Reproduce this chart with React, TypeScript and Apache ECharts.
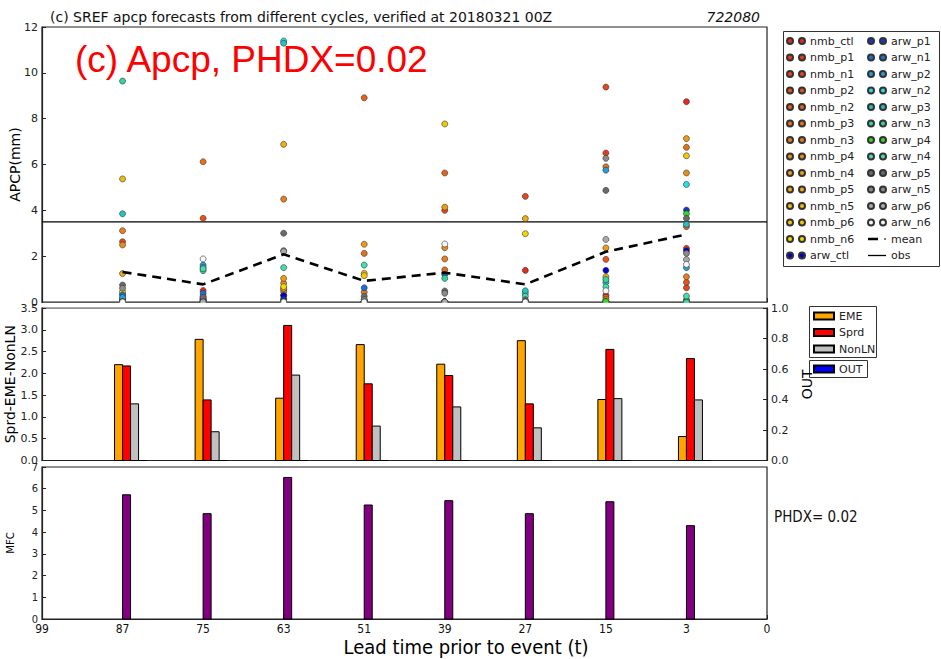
import React, { useEffect, useRef } from "react";
import * as echarts from "echarts";

// x axis tick labels (evenly spaced positions) and forecast lead times
const xLabels = ["99", "87", "75", "63", "51", "39", "27", "15", "3", "0"];
const leadTimes = ["87", "75", "63", "51", "39", "27", "15", "3"];

// member forecasts (mm) at lead times 87,75,63,51,39,27,15,3
const nmb_ctl = [0, 0.5, 0, 0, 0, 1.38, 0.3, 8.74];
const nmb_p1 = [0.1, 0.25, 0.15, 0, 0, 0, 6.5, 2.34];
const nmb_n1 = [2.63, 0, 0.3, 0.1, 4.0, 4.61, 9.38, 0.62];
const nmb_p2 = [0.15, 3.65, 0.55, 0, 0, 0, 1.86, 0.86];
const nmb_n2 = [0, 0.1, 0.45, 8.91, 5.63, 0, 0.2, 3.29];
const nmb_p3 = [0, 6.12, 0, 2.12, 1.4, 0, 5.9, 6.75];
const nmb_n3 = [3.11, 0, 4.49, 0.43, 1.88, 0, 0, 1.1];
const nmb_p4 = [2.49, 0.05, 0.82, 0, 2.37, 0, 0.1, 5.63];
const nmb_n4 = [0.35, 0, 1.03, 2.52, 4.14, 0, 2.36, 7.13];
const nmb_p5 = [1.24, 0, 6.88, 0, 0, 3.64, 1.1, 0.1];
const nmb_n5 = [5.37, 0.15, 0.6, 1.25, 0, 0, 0, 0.05];
const nmb_p6 = [0, 0, 0, 1.15, 7.77, 0, 0, 6.38];
const nmb_n6 = [0.45, 0, 0.67, 0, 0, 2.98, 0, 0];
const arw_ctl = [0, 0.1, 0.28, 0, 0, 0, 1.38, 2.24];
const arw_p1 = [0.05, 0, 0.1, 0, 0, 0, 0, 4.01];
const arw_n1 = [0.3, 0.38, 0, 0.62, 1.2, 0, 0, 0];
const arw_p2 = [0.2, 1.61, 0, 0, 0, 0, 5.75, 1.5];
const arw_n2 = [0, 0, 11.39, 0, 0, 0.38, 0, 5.13];
const arw_p3 = [3.85, 1.5, 11.29, 0, 0, 0.49, 0.85, 3.39];
const arw_n3 = [9.64, 1.37, 0, 0, 1.03, 0, 0.98, 0];
const arw_p4 = [0, 0, 0, 0, 0, 0, 0.02, 3.85];
const arw_n4 = [0, 1.45, 1.5, 1.61, 0, 0.25, 0.66, 0.26];
const arw_p5 = [0.74, 0.2, 3.0, 0.25, 0.48, 0.1, 4.87, 3.65];
const arw_n5 = [0.6, 0, 2.24, 0.1, 0.38, 0, 6.27, 2.12];
const arw_p6 = [0, 0, 2.2, 0, 0, 0, 2.73, 1.85];
const arw_n6 = [0, 1.88, 0, 0, 2.53, 0, 0.49, 1.64];

const memberNames = [
  "nmb_ctl", "nmb_p1", "nmb_n1", "nmb_p2", "nmb_n2", "nmb_p3", "nmb_n3",
  "nmb_p4", "nmb_n4", "nmb_p5", "nmb_n5", "nmb_p6", "nmb_n6",
  "arw_ctl", "arw_p1", "arw_n1", "arw_p2", "arw_n2", "arw_p3", "arw_n3",
  "arw_p4", "arw_n4", "arw_p5", "arw_n5", "arw_p6", "arw_n6",
];
const memberValues = [
  nmb_ctl, nmb_p1, nmb_n1, nmb_p2, nmb_n2, nmb_p3, nmb_n3, nmb_p4, nmb_n4,
  nmb_p5, nmb_n5, nmb_p6, nmb_n6,
  arw_ctl, arw_p1, arw_n1, arw_p2, arw_n2, arw_p3, arw_n3, arw_p4, arw_n4,
  arw_p5, arw_n5, arw_p6, arw_n6,
];
const memberColors = [
  "#e62a1a", "#e6381a", "#e6461a", "#e6541a", "#e6621a", "#e6701a", "#e87e1c",
  "#ec8c18", "#f09c12", "#f0ac10", "#f0bc0c", "#f0c808", "#f0d800",
  "#0000cc", "#1038d0", "#1870dc", "#20a0dc", "#20e0e8", "#20c4c4", "#30d69c",
  "#30dc20", "#40e0a8", "#6a6a6a", "#8a8a8a", "#aaaaaa", "#f6f6f6",
];

const meanValues = [1.31, 0.77, 2.08, 0.92, 1.28, 0.77, 2.19, 2.95];
const obsValue = [3.5];

const emeValues = [2.2, 2.78, 1.43, 2.66, 2.21, 2.75, 1.4, 0.55];
const sprdValues = [2.17, 1.39, 3.1, 1.76, 1.95, 1.3, 2.55, 2.34];
const nonlnValues = [1.3, 0.66, 1.96, 0.79, 1.23, 0.75, 1.42, 1.39];
const outValues = [0, 0, 0, 0, 0, 0, 0, 0];
const mfcValues = [5.72, 4.85, 6.52, 5.25, 5.45, 4.85, 5.4, 4.3];

const titleText = "(c) SREF apcp forecasts from different cycles, verified at 20180321 00Z";
const stationText = "722080";
const bigLabel = "(c) Apcp, PHDX=0.02";
const phdxText = "PHDX= 0.02";
const xTitle = "Lead time prior to event (t)";

const DV = '"DejaVu Sans", sans-serif';
const DVC = '"DejaVu Sans Condensed", "DejaVu Sans", sans-serif';
const twoDots =
  "path://M0,3a3,3 0 1,0 6,0a3,3 0 1,0 -6,0M12,3a3,3 0 1,0 6,0a3,3 0 1,0 -6,0";
const meanIcon = "path://M0,0h10v2.6h-10zM16,0.7h2v1.2h-2z";
const obsIcon = "path://M0,0h18v1.3h-18z";

const GL = 42;
const GW = 725;
const BAR_W = 8;

function xAxisFor(idx: number, showLabel: boolean) {
  return {
    type: "category",
    gridIndex: idx,
    data: xLabels,
    boundaryGap: false,
    axisLine: { show: true, lineStyle: { color: "#222", width: 1.2 } },
    axisTick: { show: true, inside: true, length: 4, lineStyle: { color: "#222" } },
    axisLabel: {
      show: showLabel,
      margin: 4,
      fontFamily: DVC,
      fontSize: 12,
      color: "#111",
    },
    splitLine: { show: false },
  };
}

function yAxisFor(
  idx: number,
  min: number,
  max: number,
  interval: number,
  name: string,
  nameSize: number,
  nameGap: number,
  decimals: number,
  position: string
) {
  return {
    type: "value",
    gridIndex: idx,
    min,
    max,
    interval,
    position,
    axisLine: { show: true, lineStyle: { color: "#222", width: 1.2 } },
    axisTick: { show: true, inside: true, length: 4, lineStyle: { color: "#222" } },
    axisLabel: {
      margin: 4,
      fontFamily: idx === 2 ? DVC : DV,
      fontSize: 11,
      color: "#222",
      formatter: (v: number) => v.toFixed(decimals),
    },
    splitLine: { show: false },
    name,
    nameLocation: "middle",
    nameGap,
    nameRotate: 90,
    nameMoveOverlap: false,
    nameTextStyle: { fontFamily: DV, fontSize: nameSize, color: "#000" },
  };
}

function barSeries(
  name: string,
  xAxisIndex: number,
  yAxisIndex: number,
  values: number[],
  color: string,
  offset: number
) {
  return {
    type: "custom",
    name,
    xAxisIndex,
    yAxisIndex,
    itemStyle: { color, borderColor: "#000", borderWidth: 1 },
    data: leadTimes.map((l, i) => [l, values[i]]),
    encode: { x: 0, y: 1 },
    renderItem: (_params: any, api: any) => {
      const xv = api.value(0);
      const yv = api.value(1);
      const top = api.coord([xv, yv]);
      const base = api.coord([xv, 0]);
      return {
        type: "rect",
        shape: {
          x: top[0] + offset,
          y: top[1],
          width: BAR_W,
          height: base[1] - top[1],
        },
        style: { fill: color, stroke: "#000", lineWidth: 1 },
      };
    },
    z: 3,
  };
}

export default function App() {
  const ref = useRef<HTMLDivElement>(null);

  useEffect(() => {
    document.body.style.margin = "0";
    if (!ref.current) return;
    const chart = echarts.init(ref.current, undefined, { renderer: "svg" });

    const scatterSeries = memberNames.map((name, k) => ({
      type: "scatter",
      name,
      xAxisIndex: 0,
      yAxisIndex: 0,
      symbol: "circle",
      symbolSize: 6,
      itemStyle: { color: memberColors[k], borderColor: "#333", borderWidth: 0.6, opacity: 1 },
      data: leadTimes.map((l, i) => [l, memberValues[k][i]]),
      z: 3,
    }));

    const legendText = { fontFamily: DV, fontSize: 11, color: "#222", lineHeight: 16.5 };

    const option: any = {
      animation: false,
      backgroundColor: "#fff",
      grid: [
        { left: GL, top: 27, width: GW, height: 275, show: true, borderColor: "#222", borderWidth: 1.2, backgroundColor: "transparent", outerBoundsMode: "none", containLabel: false },
        { left: GL, top: 308, width: GW, height: 152.5, show: true, borderColor: "#222", borderWidth: 1.2, backgroundColor: "transparent", outerBoundsMode: "none", containLabel: false },
        { left: GL, top: 467, width: GW, height: 152, show: true, borderColor: "#222", borderWidth: 1.2, backgroundColor: "transparent", outerBoundsMode: "none", containLabel: false },
      ],
      xAxis: [xAxisFor(0, false), xAxisFor(1, false), xAxisFor(2, true)],
      yAxis: [
        yAxisFor(0, 0, 12, 2, "APCP(mm)", 14, 20, 0, "left"),
        yAxisFor(1, 0, 3.5, 0.5, "Sprd-EME-NonLN", 14, 25, 1, "left"),
        yAxisFor(1, 0, 1, 0.2, "OUT", 14, 33, 1, "right"),
        yAxisFor(2, 0, 7, 1, "MFC", 10, 27, 0, "left"),
      ],
      legend: [
        {
          left: 786,
          top: 32.75,
          orient: "vertical",
          padding: 0,
          itemGap: 0,
          itemWidth: 18,
          itemHeight: 6,
          textStyle: legendText,
          data: memberNames.slice(0, 14).map((n) => ({ name: n, icon: twoDots })),
        },
        {
          left: 867,
          top: 32.75,
          orient: "vertical",
          padding: 0,
          itemGap: 0,
          itemWidth: 18,
          itemHeight: 6,
          textStyle: legendText,
          data: [
            ...memberNames.slice(14).map((n) => ({ name: n, icon: twoDots })),
            { name: "mean", icon: meanIcon, itemStyle: { color: "#000", borderWidth: 0 } },
            { name: "obs", icon: obsIcon, itemStyle: { color: "#000", borderWidth: 0 } },
          ],
        },
        {
          left: 813,
          top: 307.75,
          orient: "vertical",
          padding: 0,
          itemGap: 0,
          itemWidth: 20,
          itemHeight: 7,
          textStyle: legendText,
          data: [
            { name: "EME", icon: "rect" },
            { name: "Sprd", icon: "rect" },
            { name: "NonLN", icon: "rect" },
          ],
        },
        {
          left: 813,
          top: 360.75,
          orient: "vertical",
          padding: 0,
          itemGap: 0,
          itemWidth: 20,
          itemHeight: 7,
          textStyle: legendText,
          data: [{ name: "OUT", icon: "rect" }],
        },
      ],
      graphic: [
        {
          type: "text",
          x: 50,
          y: 17,
          style: { text: titleText, font: `14px ${DV}`, fill: "#111", align: "left", verticalAlign: "middle" },
        },
        {
          type: "text",
          x: 760,
          y: 17,
          style: { text: stationText, font: `italic 14px ${DV}`, fill: "#111", align: "right", verticalAlign: "middle" },
        },
        {
          type: "text",
          x: 75,
          y: 59.5,
          z: 100,
          style: { text: bigLabel, font: `37px "Liberation Sans", Arial, sans-serif`, fill: "#ff0000", align: "left", verticalAlign: "middle" },
        },
        {
          type: "text",
          x: 774,
          y: 517,
          style: { text: phdxText, font: `15px ${DVC}`, fill: "#111", align: "left", verticalAlign: "middle" },
        },
        {
          type: "text",
          x: 466,
          y: 647,
          style: { text: xTitle, font: `20px ${DVC}`, fill: "#000", align: "center", verticalAlign: "middle" },
        },
        {
          type: "rect",
          z: 100,
          shape: { x: 43, y: 302.8, width: 724, height: 4.4 },
          style: { fill: "#fff", stroke: "none" },
        },
        {
          type: "rect",
          shape: { x: 783.5, y: 31.5, width: 156, height: 235 },
          style: { fill: "none", stroke: "#333", lineWidth: 1 },
        },
        {
          type: "rect",
          shape: { x: 809.5, y: 306.5, width: 67, height: 51 },
          style: { fill: "none", stroke: "#333", lineWidth: 1 },
        },
        {
          type: "rect",
          shape: { x: 809.5, y: 360.5, width: 58, height: 17 },
          style: { fill: "none", stroke: "#333", lineWidth: 1 },
        },
      ],
      series: [
        {
          type: "line",
          name: "obs",
          xAxisIndex: 0,
          yAxisIndex: 0,
          symbol: "none",
          lineStyle: { color: "#000", width: 1.2 },
          itemStyle: { color: "#000" },
          data: [
            [xLabels[0], obsValue[0]],
            [xLabels[xLabels.length - 1], obsValue[0]],
          ],
          z: 2,
        },
        ...scatterSeries,
        {
          type: "line",
          name: "mean",
          xAxisIndex: 0,
          yAxisIndex: 0,
          symbol: "none",
          lineStyle: { color: "#000", width: 2.6, type: [9, 6] },
          itemStyle: { color: "#000" },
          data: leadTimes.map((l, i) => [l, meanValues[i]]),
          z: 5,
        },
        barSeries("EME", 1, 1, emeValues, "#ffa500", -BAR_W),
        barSeries("Sprd", 1, 1, sprdValues, "#ff0000", 0),
        barSeries("NonLN", 1, 1, nonlnValues, "#c0c0c0", BAR_W),
        barSeries("OUT", 1, 2, outValues, "#0000ff", 2 * BAR_W),
        barSeries("MFC", 2, 3, mfcValues, "#800080", 0),
      ],
    };

    chart.setOption(option);
    return () => chart.dispose();
  }, []);

  return (
    <div
      ref={ref}
      style={{ position: "fixed", left: 0, top: 0, width: 941, height: 659, background: "#fff" }}
    />
  );
}
